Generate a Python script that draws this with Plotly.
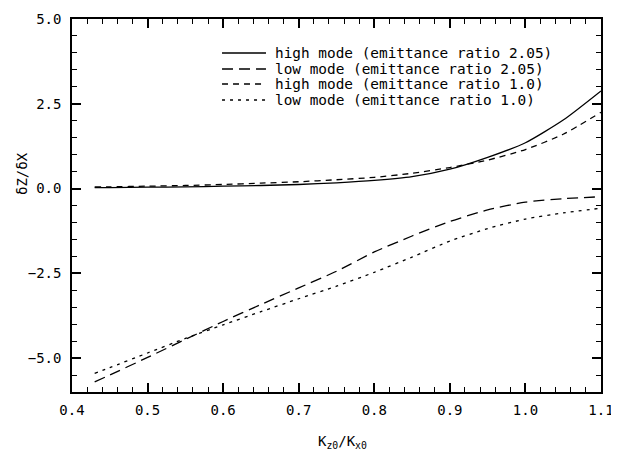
import plotly.graph_objects as go

x_vals = [0.43, 0.45, 0.5, 0.55, 0.6, 0.65, 0.7, 0.75, 0.8, 0.85, 0.9, 0.95, 1.0, 1.05, 1.1]

high_205 = [0.03, 0.03, 0.04, 0.05, 0.07, 0.09, 0.12, 0.17, 0.24, 0.35, 0.57, 0.92, 1.35, 2.02, 2.88]
low_205 = [-5.70, -5.50, -4.98, -4.45, -3.92, -3.42, -2.93, -2.44, -1.87, -1.40, -0.97, -0.63, -0.40, -0.30, -0.24]
high_10 = [0.05, 0.05, 0.07, 0.09, 0.12, 0.16, 0.20, 0.26, 0.33, 0.45, 0.62, 0.84, 1.15, 1.60, 2.25]
low_10 = [-5.45, -5.28, -4.85, -4.42, -4.02, -3.63, -3.25, -2.88, -2.47, -2.02, -1.55, -1.18, -0.90, -0.72, -0.58]

series_names = [
    "high mode (emittance ratio 2.05)",
    "low mode (emittance ratio 2.05)",
    "high mode (emittance ratio 1.0)",
    "low mode (emittance ratio 1.0)",
]
series_values = [high_205, low_205, high_10, low_10]
dashes = ["solid", "11px,6px", "6px,5px", "3px,5px"]

FONT = "DejaVu Sans Mono"

fig = go.Figure()
for name, vals, dash in zip(series_names, series_values, dashes):
    fig.add_trace(go.Scatter(
        x=x_vals, y=vals, mode="lines", name=name, showlegend=False,
        line=dict(color="black", width=1.3, dash=dash, shape="spline", smoothing=0.6),
    ))

# Manual legend (paper coordinates) to match compact row spacing
leg_x0, leg_x1, leg_tx = 0.2836, 0.3667, 0.380
leg_rows = [0.9088, 0.866, 0.8257, 0.7828]
for name, dash, yy in zip(series_names, dashes, leg_rows):
    fig.add_shape(type="line", xref="paper", yref="paper",
                  x0=leg_x0, x1=leg_x1, y0=yy, y1=yy,
                  line=dict(color="black", width=1.3, dash=dash))
    fig.add_annotation(xref="paper", yref="paper", x=leg_tx, y=yy,
                       xanchor="left", yanchor="middle", showarrow=False,
                       text=name, font=dict(family=FONT, size=14.4, color="black"))

axis_common = dict(
    showline=True, linecolor="black", linewidth=1.5, mirror="ticks",
    ticks="inside", ticklen=9, tickcolor="rgb(0,0,0)", tickwidth=1.5,
    showgrid=False, zeroline=False, automargin=False,
    tickfont=dict(family=FONT, size=14, color="black"),
)

fig.update_xaxes(
    range=[0.4, 1.1], tick0=0.4, dtick=0.1, tickformat=".1f",
    minor=dict(ticks="inside", ticklen=5, tickwidth=1.3, dtick=0.02, tickcolor="rgb(0,0,0)", showgrid=False),
    ticklabelstandoff=4,
    **axis_common,
)
fig.update_yaxes(
    range=[-6.0, 5.0], tick0=0, dtick=2.5, tickformat=".1f",
    minor=dict(ticks="inside", ticklen=5, tickwidth=1.3, dtick=0.5, tickcolor="rgb(0,0,0)", showgrid=False),
    ticklabelstandoff=6,
    **axis_common,
)

# Axis titles
fig.add_annotation(xref="paper", yref="paper", x=(342 - 72) / 529, y=-(442 - 392) / 373,
                   xanchor="center", yanchor="middle", showarrow=False,
                   text="K<sub>z0</sub>/K<sub>x0</sub>", font=dict(family=FONT, size=14, color="black"))
fig.add_annotation(xref="paper", yref="paper", x=(22 - 72) / 529, y=1 - (174 - 19) / 373,
                   xanchor="center", yanchor="middle", showarrow=False, textangle=-90,
                   text="δZ/δX", font=dict(family=FONT, size=14, color="black"))

# The page body has an 8px margin, so offset the margins to land the plot where the reference has it
fig.update_layout(
    width=619, height=452,
    margin=dict(l=64, r=26, t=11, b=68),
    paper_bgcolor="white", plot_bgcolor="white",
    showlegend=False,
)

fig.write_html("out.html")
